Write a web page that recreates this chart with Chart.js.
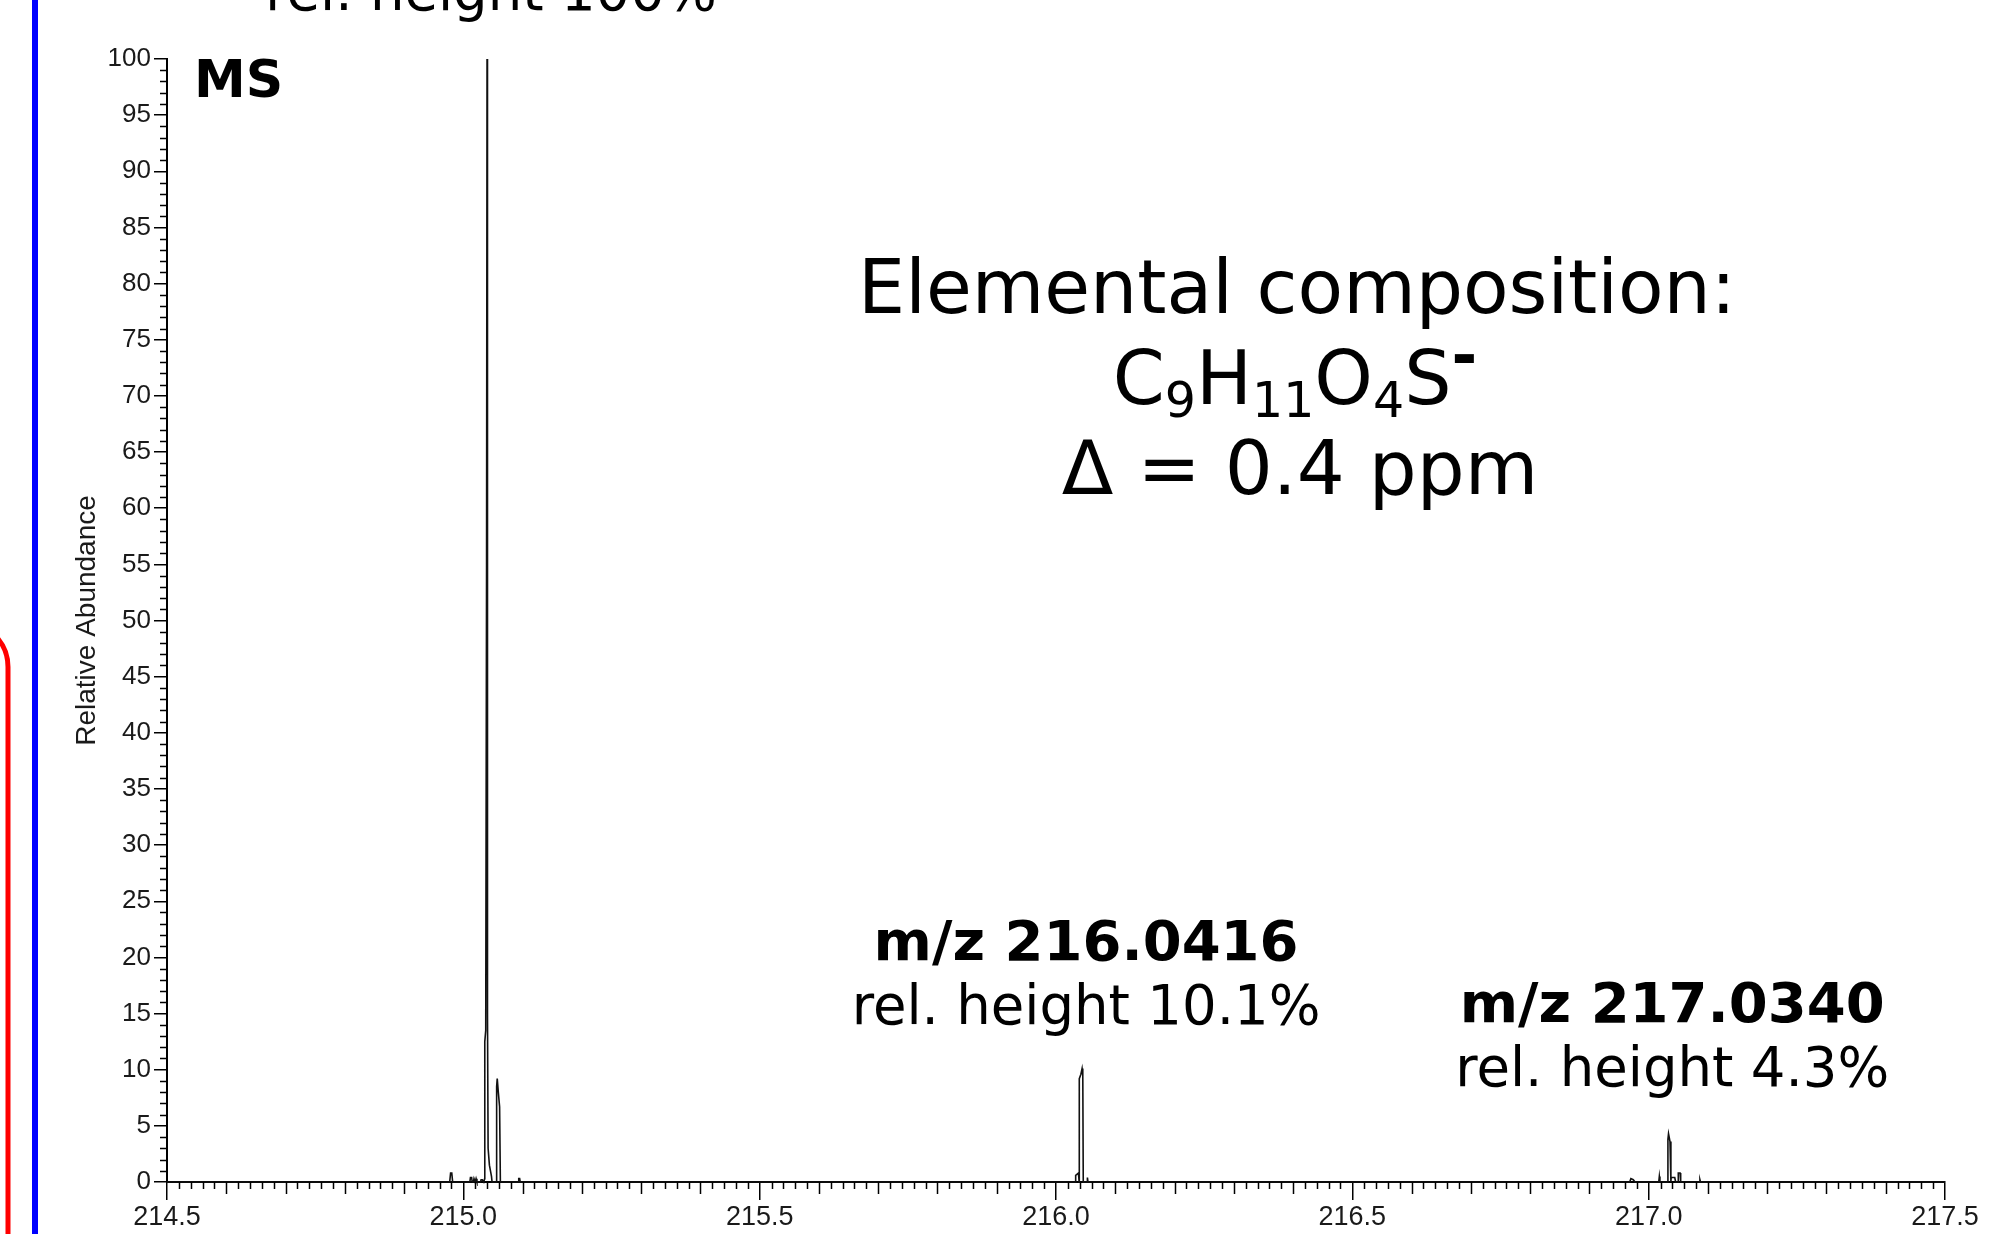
<!DOCTYPE html>
<html>
<head>
<meta charset="utf-8">
<title>MS spectrum</title>
<script src="https://cdn.jsdelivr.net/npm/chart.js@4.4.1/dist/chart.umd.min.js"></script>
<style>
  html, body { margin: 0; padding: 0; background: #fff; overflow: hidden; }
  #wrap { width: 2003px; height: 1234px; }
</style>
</head>
<body>
<div id="wrap"><canvas id="ms" width="2003" height="1234"></canvas></div>
<script>
// axis ranges and tick steps
const X_RANGE = [214.5, 217.5];
const X_STEPS = [0.5, 0.1, 0.02];   // labelled, medium, minor
const Y_RANGE = [0, 100];
const Y_STEPS = [5, 1];              // labelled, minor

// profile trace: m/z and relative abundance (%)
const MZ = [
  214.500, 214.977, 214.9785, 214.9805, 214.982,
  215.011, 215.012, 215.014, 215.015, 215.017, 215.018, 215.020, 215.0215, 215.023,
  215.029, 215.030, 215.032, 215.0345,
  215.0360, 215.0362, 215.0378, 215.0392, 215.0400, 215.0405, 215.0410, 215.0418,
  215.0440, 215.0475, 215.0485,
  215.0555, 215.0562, 215.0572, 215.0590, 215.0612, 215.0625,
  215.0925, 215.0935, 215.0950, 215.0960,
  216.0325, 216.0332, 216.0378, 216.0386, 216.0390,
  216.0393, 216.0420, 216.0440, 216.0452, 216.0460,
  216.0525, 216.0530, 216.0540,
  216.9680, 216.9700, 216.9740, 216.9770,
  217.0170, 217.0180, 217.0190,
  217.0320, 217.0325, 217.0335, 217.0360, 217.0375,
  217.0380, 217.0440, 217.0455,
  217.0495, 217.0500, 217.0530, 217.0540,
  217.0860, 217.0865, 217.0875, 217.500
];
const ABUNDANCE = [
  0, 0, 0.8, 0.8, 0,
  0, 0.4, 0.4, 0, 0, 0.3, 0, 0.3, 0,
  0, 0.2, 0.2, 0,
  0.3, 12.5, 13.5, 55, 100, 60, 15, 3,
  1.5, 0.5, 0,
  0, 8.5, 9.2, 8.0, 6.7, 0,
  0, 0.3, 0.3, 0,
  0, 0.6, 0.8, 0.3, 0,
  9.2, 9.6, 10.1, 9.5, 0,
  0, 0.4, 0,
  0, 0.3, 0.2, 0,
  0, 0.5, 0,
  0, 3.8, 4.3, 3.6, 0,
  0.4, 0.4, 0,
  0, 0.8, 0.8, 0,
  0, 0.2, 0, 0
];

// peak annotations (first one is cut by the top edge)
const PEAK_MZ = [215.0400, 216.0440, 217.0330];
const PEAK_NAME = ['', 'm/z 216.0416', 'm/z 217.0340'];
const PEAK_HEIGHT = ['rel. height 100%', 'rel. height 10.1%', 'rel. height 4.3%'];

const TICK_FONT = '"Liberation Sans", Arial, sans-serif';
const TEXT_FONT = '"DejaVu Sans", Verdana, sans-serif';

// draws text made of runs (subscripts etc.), centred on cx
function drawRuns(ctx, runs, cx, baseline) {
  let total = 0;
  runs.forEach(r => {
    ctx.font = r.font;
    r.w = ctx.measureText(r.t).width;
    total += r.w;
  });
  let x = cx - total / 2;
  ctx.textAlign = 'left';
  runs.forEach(r => {
    ctx.font = r.font;
    ctx.fillText(r.t, x, baseline + (r.dy || 0));
    x += r.w;
  });
}

// minor ticks, labels and the side marks of the figure panel
const decorations = {
  id: 'decorations',
  beforeDraw(chart) {
    const ctx = chart.ctx;
    ctx.save();
    ctx.fillStyle = '#fff';
    ctx.fillRect(0, 0, chart.width, chart.height);
    ctx.restore();
  },
  afterDraw(chart, args, opts) {
    const ctx = chart.ctx;
    const xs = chart.scales.x;
    const ys = chart.scales.y;
    const area = chart.chartArea;
    ctx.save();

    // x minor / medium ticks
    ctx.strokeStyle = '#000';
    ctx.lineWidth = 1.5;
    const perMajor = Math.round(X_STEPS[0] / X_STEPS[2]);
    const perMid = Math.round(X_STEPS[1] / X_STEPS[2]);
    const nx = Math.round((X_RANGE[1] - X_RANGE[0]) / X_STEPS[2]);
    ctx.beginPath();
    for (let i = 0; i <= nx; i++) {
      if (i % perMajor === 0) continue;
      const px = Math.round(xs.getPixelForValue(X_RANGE[0] + i * X_STEPS[2])) + 0.5;
      const len = i % perMid === 0 ? opts.midTick : opts.minorTick;
      ctx.moveTo(px, area.bottom);
      ctx.lineTo(px, area.bottom + len);
    }
    // y minor ticks
    const perY = Math.round(Y_STEPS[0] / Y_STEPS[1]);
    const ny = Math.round((Y_RANGE[1] - Y_RANGE[0]) / Y_STEPS[1]);
    for (let i = 0; i <= ny; i++) {
      if (i % perY === 0) continue;
      const py = Math.round(ys.getPixelForValue(Y_RANGE[0] + i * Y_STEPS[1])) + 0.5;
      ctx.moveTo(area.left - opts.minorTick, py);
      ctx.lineTo(area.left, py);
    }
    ctx.stroke();

    ctx.fillStyle = '#000';
    ctx.textBaseline = 'alphabetic';

    // panel label
    ctx.font = 'bold 52px ' + TEXT_FONT;
    ctx.textAlign = 'left';
    ctx.fillText('MS', 194, 97);

    // peak annotations
    PEAK_MZ.forEach((mz, i) => {
      const cx = xs.getPixelForValue(mz) + opts.labelShift;
      const pos = opts.peakLabels[i];
      ctx.textAlign = 'center';
      if (PEAK_NAME[i]) {
        ctx.font = 'bold 56px ' + TEXT_FONT;
        ctx.fillText(PEAK_NAME[i], cx, pos[0]);
      }
      ctx.font = '54.5px ' + TEXT_FONT;
      ctx.fillText(PEAK_HEIGHT[i], cx, pos[1]);
    });

    // elemental composition block
    const big = '74.5px ' + TEXT_FONT;
    const small = '49px ' + TEXT_FONT;
    const cx = opts.formulaX;
    ctx.textAlign = 'center';
    ctx.font = big;
    ctx.fillText('Elemental composition:', cx, 313);
    drawRuns(ctx, [
      { t: 'C', font: big },
      { t: '9', font: small, dy: 13 },
      { t: 'H', font: big },
      { t: '11', font: small, dy: 13 },
      { t: 'O', font: big },
      { t: '4', font: small, dy: 13 },
      { t: 'S', font: big },
      { t: '-', font: 'bold 62px ' + TEXT_FONT, dy: -27 }
    ], cx - 2, 404);
    ctx.textAlign = 'center';
    ctx.font = '75.5px ' + TEXT_FONT;
    ctx.fillText('\u0394 = 0.4 ppm', cx + 3, 494);

    // red and blue frame edges at the left
    ctx.lineCap = 'butt';
    ctx.strokeStyle = '#ff0000';
    ctx.lineWidth = 5;
    ctx.beginPath();
    ctx.moveTo(-40, 622);
    ctx.arcTo(8, 622, 8, 700, 45);
    ctx.lineTo(8, 1240);
    ctx.stroke();
    ctx.strokeStyle = '#0000ff';
    ctx.lineWidth = 6;
    ctx.beginPath();
    ctx.moveTo(35, 0);
    ctx.lineTo(35, 1234);
    ctx.stroke();

    ctx.restore();
  }
};

const points = MZ.map((mz, i) => ({ x: mz, y: ABUNDANCE[i] }));

new Chart(document.getElementById('ms'), {
  type: 'line',
  data: {
    datasets: [{
      data: points,
      borderColor: '#111',
      borderWidth: 1.6,
      pointRadius: 0,
      tension: 0,
      fill: false,
      clip: 4
    }]
  },
  options: {
    responsive: false,
    animation: false,
    devicePixelRatio: 1,
    events: [],
    layout: { padding: { left: 0, top: 59, right: 58, bottom: 0 } },
    plugins: {
      legend: { display: false },
      tooltip: { enabled: false },
      decorations: {
        midTick: 12,
        minorTick: 7,
        labelShift: 4,
        formulaX: 1297,
        peakLabels: [[-40, 10], [960, 1024], [1022, 1086]]
      }
    },
    scales: {
      x: {
        type: 'linear',
        min: X_RANGE[0],
        max: X_RANGE[1],
        afterFit: s => { s.height = 52; },
        border: { display: true, color: '#000', width: 2 },
        grid: { drawOnChartArea: false, color: '#000', lineWidth: 1.5, tickLength: 18 },
        ticks: {
          stepSize: X_STEPS[0],
          autoSkip: false,
          maxRotation: 0,
          padding: 1,
          color: '#1a1a1a',
          font: { family: TICK_FONT, size: 27 },
          callback: v => Number(v).toFixed(1)
        }
      },
      y: {
        min: Y_RANGE[0],
        max: Y_RANGE[1],
        afterFit: s => { s.width = 167; },
        border: { display: true, color: '#000', width: 2 },
        grid: { drawOnChartArea: false, color: '#000', lineWidth: 1.5, tickLength: 13 },
        ticks: {
          stepSize: Y_STEPS[0],
          autoSkip: false,
          padding: 3,
          color: '#1a1a1a',
          font: { family: TICK_FONT, size: 26 }
        },
        title: {
          display: true,
          text: 'Relative Abundance',
          color: '#1a1a1a',
          font: { family: TICK_FONT, size: 28 },
          padding: { top: 70, bottom: 0 }
        }
      }
    }
  },
  plugins: [decorations]
});
</script>
</body>
</html>
